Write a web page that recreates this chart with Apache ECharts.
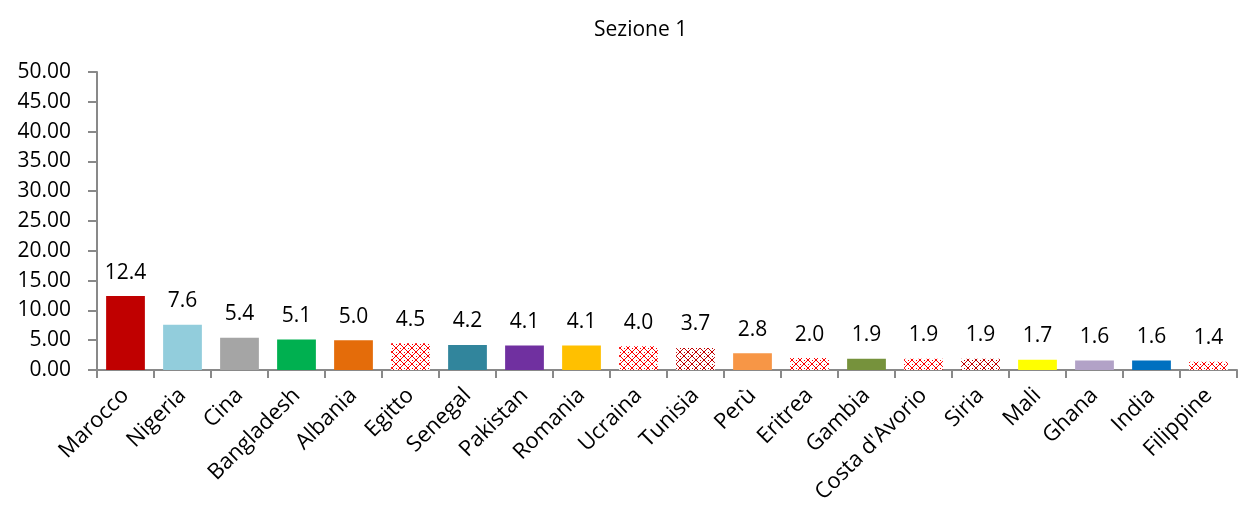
<!DOCTYPE html>
<html>
<head>
<meta charset="utf-8">
<script src="https://cdn.jsdelivr.net/npm/echarts@6/dist/echarts.min.js"></script>
<style>
  html, body { margin: 0; padding: 0; background: #fff; }
  #main { width: 1245px; height: 513px; }
</style>
</head>
<body>
<div id="main"></div>
<script>
var paesi = ['Marocco', 'Nigeria', 'Cina', 'Bangladesh', 'Albania', 'Egitto', 'Senegal', 'Pakistan', 'Romania', 'Ucraina',
  'Tunisia', 'Perù', 'Eritrea', 'Gambia', "Costa d'Avorio", 'Siria', 'Mali', 'Ghana', 'India', 'Filippine'];
var valori = [12.4, 7.6, 5.4, 5.1, 5.0, 4.5, 4.2, 4.1, 4.1, 4.0, 3.7, 2.8, 2.0, 1.9, 1.9, 1.9, 1.7, 1.6, 1.6, 1.4];
// colore pieno oppure 'pat' / 'patDark' per le barre retinate
var colori = ['#C00000', '#92CDDC', '#A5A5A5', '#00B050', '#E46C0A', 'pat', '#31859C', '#7030A0', '#FFC000', 'pat',
  'patDark', '#F79646', 'pat', '#76923C', 'pat', 'patDark', '#FFFF00', '#B2A2C7', '#0070C0', 'pat'];

// tessera del retino (griglia a rombi rossi)
function makePattern(col) {
  var c = document.createElement('canvas');
  c.width = 8; c.height = 8;
  var ctx = c.getContext('2d');
  ctx.fillStyle = '#ffffff';
  ctx.fillRect(0, 0, 8, 8);
  ctx.fillStyle = col;
  var pts = [[0,0],[1,1],[2,2],[3,3],[4,4],[5,5],[6,6],[7,7],[7,0],[6,1],[5,2],[4,3],[3,4],[2,5],[1,6],[0,7],[0,4],[4,0]];
  pts.forEach(function (p) { ctx.fillRect(p[0], p[1], 1, 1); });
  return c;
}
var patRed = makePattern('#FF0000');
var patDark = makePattern('#C00000');

var dati = valori.map(function (v, i) {
  var col = colori[i];
  if (col === 'pat') col = { image: patRed, repeat: 'repeat' };
  else if (col === 'patDark') col = { image: patDark, repeat: 'repeat' };
  return { value: v, itemStyle: { color: col } };
});

var myChart = echarts.init(document.getElementById('main'));
var option = {
  animation: false,
  textStyle: { fontFamily: 'Open Sans' },
  title: {
    text: 'Sezione 1',
    left: 589,
    top: 15,
    textStyle: { fontSize: 21, fontWeight: 'normal', color: '#000', fontFamily: 'Open Sans' }
  },
  grid: { left: 97, right: 8, top: 72, bottom: 143, containLabel: false },
  xAxis: {
    type: 'category',
    data: paesi,
    axisLine: { lineStyle: { color: '#898989', width: 2 } },
    axisTick: { show: true, length: 8, lineStyle: { color: '#898989', width: 2 } },
    axisLabel: { rotate: 45, fontSize: 22, color: '#000', margin: 22, interval: 0 }
  },
  yAxis: {
    type: 'value',
    min: 0,
    max: 50,
    interval: 5,
    splitLine: { show: false },
    axisLine: { show: true, lineStyle: { color: '#898989', width: 2 } },
    axisTick: { show: true, length: 9, lineStyle: { color: '#898989', width: 2 } },
    axisLabel: {
      fontSize: 21, color: '#000', margin: 26,
      formatter: function (v) { return v.toFixed(2); }
    }
  },
  series: [{
    type: 'bar',
    data: dati,
    barCategoryGap: '32%',
    label: {
      show: true,
      position: 'top',
      distance: 13,
      fontSize: 21,
      color: '#000',
      formatter: function (p) { return p.value.toFixed(1); }
    }
  }]
};
myChart.setOption(option);
</script>
</body>
</html>
